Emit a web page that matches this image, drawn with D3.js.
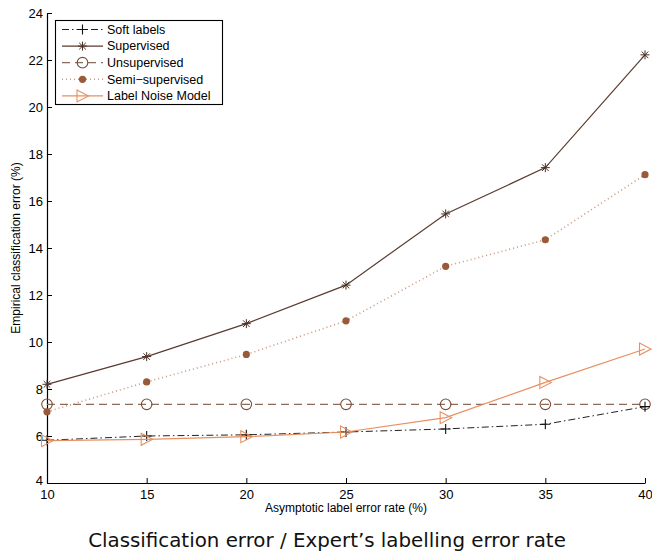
<!DOCTYPE html>
<html><head><meta charset="utf-8">
<script src="https://cdn.jsdelivr.net/npm/d3@7"></script>
<style>body{margin:0;background:#fff}svg{display:block}</style>
</head><body>
<svg id="c" width="652" height="555"></svg>
<script>
const xValues = [10, 15, 20, 25, 30, 35, 40];
const softLabels = [5.82, 6.0, 6.05, 6.17, 6.3, 6.5, 7.25];
const supervised = [8.2, 9.38, 10.78, 12.42, 15.45, 17.42, 22.22];
const unsupervised = [7.35, 7.35, 7.35, 7.35, 7.35, 7.35, 7.35];
const semiSupervised = [7.03, 8.3, 9.47, 10.9, 13.22, 14.35, 17.12];
const labelNoise = [5.8, 5.86, 5.97, 6.17, 6.78, 8.28, 9.7];
const xTicks = [10, 15, 20, 25, 30, 35, 40];
const yTicks = [4, 6, 8, 10, 12, 14, 16, 18, 20, 22, 24];
const seriesNames = ["Soft labels", "Supervised", "Unsupervised", "Semi\u2212supervised", "Label Noise Model"];

const svg = d3.select("#c");
const x = d3.scaleLinear().domain([10, 40]).range([47, 645]);
const y = d3.scaleLinear().domain([4, 24]).range([483, 13]);

const series = [
  {name: seriesNames[0], vals: softLabels, color: "#222", lw: 1, dash: "7,3,1.5,3", marker: "plus", mcolor: "#111"},
  {name: seriesNames[1], vals: supervised, color: "#5a3b2e", lw: 1.2, dash: null, marker: "star", mcolor: "#4a3026"},
  {name: seriesNames[2], vals: unsupervised, color: "#8c6a5c", lw: 1.2, dash: "8,5", marker: "circle", mcolor: "#7a4b36"},
  {name: seriesNames[3], vals: semiSupervised, color: "#c9977e", lw: 1.6, dash: "1,3", marker: "dot", mcolor: "#9a5a3a"},
  {name: seriesNames[4], vals: labelNoise, color: "#e88f60", lw: 1.2, dash: null, marker: "tri", mcolor: "#e88f60"}
];

function drawMarker(g, type, cx, cy, col) {
  if (type === "plus") {
    g.append("path").attr("d", `M${cx-5},${cy}H${cx+5}M${cx},${cy-5}V${cy+5}`).attr("stroke", col).attr("stroke-width", 1.1).attr("fill", "none");
  } else if (type === "star") {
    const r = 4.5, r2 = 3.3;
    g.append("path").attr("d", `M${cx-r},${cy}H${cx+r}M${cx},${cy-r}V${cy+r}M${cx-r2},${cy-r2}L${cx+r2},${cy+r2}M${cx-r2},${cy+r2}L${cx+r2},${cy-r2}`).attr("stroke", col).attr("stroke-width", 1).attr("fill", "none");
  } else if (type === "circle") {
    g.append("circle").attr("cx", cx).attr("cy", cy).attr("r", 5.3).attr("stroke", col).attr("stroke-width", 1.1).attr("fill", "none");
  } else if (type === "dot") {
    g.append("circle").attr("cx", cx).attr("cy", cy).attr("r", 3.6).attr("fill", col);
  } else if (type === "tri") {
    g.append("path").attr("d", `M${cx-5.5},${cy-6}L${cx+6},${cy}L${cx-5.5},${cy+6}Z`).attr("stroke", col).attr("stroke-width", 1.1).attr("fill", "none");
  }
}

// axes
const gx = svg.append("g").attr("transform", "translate(0,483)")
  .call(d3.axisBottom(x).tickValues(xTicks).tickSize(-5).tickPadding(9).tickSizeOuter(0));
const gy = svg.append("g").attr("transform", "translate(47,0)")
  .call(d3.axisLeft(y).tickValues(yTicks).tickSize(-5).tickPadding(4).tickSizeOuter(0));
[gx, gy].forEach(g => {
  g.select(".domain").attr("stroke", "#000").attr("stroke-width", 1.2);
  g.selectAll(".tick line").attr("stroke", "#000").attr("stroke-width", 1);
  g.selectAll("text").attr("font-family", "Liberation Sans, Arial, sans-serif").attr("font-size", 13).attr("fill", "#000");
});
gx.selectAll("text").attr("dy", "0.55em");
gy.selectAll(".tick").filter(d => d === 4).select("text").attr("dy", "0.1em");

// lines
const line = d3.line().x((d, i) => x(xValues[i])).y(d => y(d));
const order = [2, 3, 1, 0, 4];
order.forEach(k => {
  const s = series[k];
  svg.append("path").datum(s.vals).attr("d", line).attr("fill", "none")
    .attr("stroke", s.color).attr("stroke-width", s.lw).attr("stroke-dasharray", s.dash);
  const mg = svg.append("g");
  s.vals.forEach((v, i) => drawMarker(mg, s.marker, x(xValues[i]), y(v), s.mcolor));
});

// legend
const lg = svg.append("g");
lg.append("rect").attr("x", 55.5).attr("y", 20.5).attr("width", 167).attr("height", 84)
  .attr("fill", "#fff").attr("stroke", "#000").attr("stroke-width", 1.1);
series.forEach((s, i) => {
  const ly = 29.5 + i * 16.6;
  lg.append("line").attr("x1", 62).attr("x2", 103).attr("y1", ly).attr("y2", ly)
    .attr("stroke", s.color).attr("stroke-width", s.lw).attr("stroke-dasharray", s.dash);
  drawMarker(lg, s.marker, 82.5, ly, s.mcolor);
  lg.append("text").attr("x", 107).attr("y", ly).attr("dy", "0.35em").text(s.name)
    .attr("font-family", "Liberation Sans, Arial, sans-serif").attr("font-size", 12.5).attr("fill", "#000");
});

// axis labels
svg.append("text").attr("x", 346).attr("y", 512).attr("text-anchor", "middle")
  .attr("font-family", "Liberation Sans, Arial, sans-serif").attr("font-size", 12).text("Asymptotic label error rate (%)");
svg.append("text").attr("transform", "translate(20,248) rotate(-90)").attr("text-anchor", "middle")
  .attr("font-family", "Liberation Sans, Arial, sans-serif").attr("font-size", 12).text("Empirical classification error (%)");

// title
const t = svg.append("text").attr("x", 327).attr("y", 547).attr("text-anchor", "middle")
  .attr("font-family", "DejaVu Sans, sans-serif").attr("font-size", 20).attr("fill", "#111")
  .text("Classification error / Expert\u2019s labelling error rate");
const w = t.node().getComputedTextLength();
t.attr("font-size", 20 * 478 / w);
</script>
</body></html>
